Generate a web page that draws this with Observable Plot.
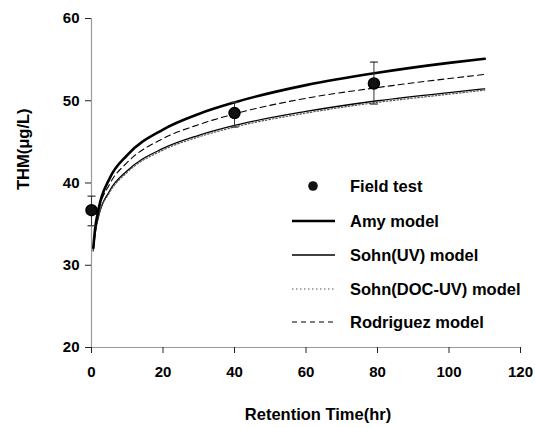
<!DOCTYPE html>
<html>
<head>
<meta charset="utf-8">
<script src="https://cdn.jsdelivr.net/npm/d3@7"></script>
<script src="https://cdn.jsdelivr.net/npm/@observablehq/plot@0.6"></script>
<style>
  html, body { margin: 0; padding: 0; background: #fff; }
  #chart svg { display: block; }
</style>
</head>
<body>
<div id="chart"></div>
<script>
// ---- data ----
const times        = [0.5, 1, 2, 5, 10, 20, 30, 40, 60, 80, 100, 110];
const amyModel     = [32.1, 34.4, 36.9, 40.5, 43.4, 46.5, 48.4, 49.8, 51.9, 53.4, 54.6, 55.1];
const sohnUV       = [31.8, 33.8, 36.0, 39.0, 41.5, 44.2, 45.8, 47.0, 48.7, 50.0, 51.0, 51.45];
const sohnDOCUV    = [31.7, 33.7, 35.9, 38.8, 41.3, 44.0, 45.6, 46.8, 48.5, 49.8, 50.8, 51.3];
const rodriguez    = [32.1, 34.3, 36.6, 39.8, 42.5, 45.4, 47.1, 48.4, 50.3, 51.6, 52.7, 53.2];

const fieldTime    = [0, 40, 79];
const fieldTHM     = [36.7, 48.5, 52.1];
const fieldLow     = [34.8, 46.8, 49.6];
const fieldHigh    = [38.4, 49.8, 54.7];

const xTicks = [0, 20, 40, 60, 80, 100, 120];
const yTicks = [20, 30, 40, 50, 60];

const xLabel = "Retention Time(hr)";
const yLabel = "THM(μg/L)";

const legendLabels = ["Field test", "Amy model", "Sohn(UV) model", "Sohn(DOC-UV) model", "Rodriguez model"];

// ---- build tables ----
const series = [
  {name: "Amy model", values: amyModel},
  {name: "Sohn(UV) model", values: sohnUV},
  {name: "Sohn(DOC-UV) model", values: sohnDOCUV},
  {name: "Rodriguez model", values: rodriguez}
];
const toRows = s => times.map((t, i) => ({t, v: s.values[i], name: s.name}));
const field = fieldTime.map((t, i) => ({t, v: fieldTHM[i], lo: fieldLow[i], hi: fieldHigh[i]}));

const capSymbol = {
  draw(ctx, size) {
    const h = Math.sqrt(size / Math.PI);
    ctx.moveTo(-h, 0);
    ctx.lineTo(h, 0);
  }
};

const font = "'Liberation Sans', Arial, sans-serif";

const plot = Plot.plot({
  width: 535,
  height: 428,
  marginLeft: 91,
  marginRight: 15,
  marginTop: 18,
  marginBottom: 81,
  style: {fontFamily: font, fontSize: "15px", fontWeight: "bold", background: "#fff", color: "#000"},
  x: {domain: [0, 120]},
  y: {domain: [20, 60]},
  marks: [
    Plot.ruleX([0], {stroke: "#9a9a9a", strokeWidth: 1.2}),
    Plot.ruleY([20], {stroke: "#9a9a9a", strokeWidth: 1.2}),
    Plot.axisX({ticks: xTicks, tickSize: 6, tickPadding: 13, label: null, stroke: "#222", fontSize: 15, fontWeight: "bold"}),
    Plot.axisY({ticks: yTicks, tickSize: 6, tickPadding: 6, label: null, stroke: "#222", fontSize: 15, fontWeight: "bold"}),
    Plot.line(toRows(series[1]), {x: "t", y: "v", curve: "monotone-x", stroke: "#000", strokeWidth: 1.3}),
    Plot.line(toRows(series[2]), {x: "t", y: "v", curve: "monotone-x", stroke: "#555", strokeWidth: 1.2, strokeDasharray: "1.5,2"}),
    Plot.line(toRows(series[3]), {x: "t", y: "v", curve: "monotone-x", stroke: "#000", strokeWidth: 1.1, strokeDasharray: "6,4"}),
    Plot.line(toRows(series[0]), {x: "t", y: "v", curve: "monotone-x", stroke: "#000", strokeWidth: 2.6}),
    Plot.ruleX(field, {x: "t", y1: "lo", y2: "hi", stroke: "#333", strokeWidth: 1}),
    Plot.dot(field, {x: "t", y: "lo", symbol: capSymbol, r: 4, stroke: "#333", strokeWidth: 1.2}),
    Plot.dot(field, {x: "t", y: "hi", symbol: capSymbol, r: 4, stroke: "#333", strokeWidth: 1.2}),
    Plot.dot(field, {x: "t", y: "v", r: 5.5, fill: "#111", stroke: "#000"}),
    Plot.text([xLabel], {frameAnchor: "bottom", dy: 72, dx: 12, fontSize: 16.5, fontWeight: "bold", fill: "#000"}),
    Plot.text([yLabel], {frameAnchor: "left", dx: -68, dy: 7, rotate: -90, fontSize: 16.5, fontWeight: "bold", fill: "#000"})
  ]
});

document.getElementById("chart").appendChild(plot);

// ---- legend overlay drawn inside the plot's svg ----
const svg = d3.select(plot.tagName.toLowerCase() === "svg" ? plot : plot.querySelector("svg"));
const legendStyles = [
  {type: "dot"},
  {type: "line", width: 2.4, dash: null, color: "#000"},
  {type: "line", width: 1.3, dash: null, color: "#000"},
  {type: "line", width: 1.2, dash: "1.5,2.5", color: "#555"},
  {type: "line", width: 1.1, dash: "5,4", color: "#000"}
];
const lg = svg.append("g").attr("font-family", font).attr("font-size", 16.5)
  .attr("font-weight", "bold").attr("text-anchor", "start");
const rowY = [186, 221, 255, 289, 322];
legendLabels.forEach((label, i) => {
  const st = legendStyles[i];
  const y = rowY[i];
  if (st.type === "dot") {
    lg.append("circle").attr("cx", 313).attr("cy", y).attr("r", 4.8).attr("fill", "#111");
  } else {
    const ln = lg.append("line").attr("x1", 292).attr("x2", 335).attr("y1", y).attr("y2", y)
      .attr("stroke", st.color).attr("stroke-width", st.width);
    if (st.dash) ln.attr("stroke-dasharray", st.dash);
  }
  lg.append("text").attr("x", 350).attr("y", y).attr("dy", "0.35em")
    .attr("text-anchor", "start").attr("fill", "#000").text(label);
});
</script>
</body>
</html>
